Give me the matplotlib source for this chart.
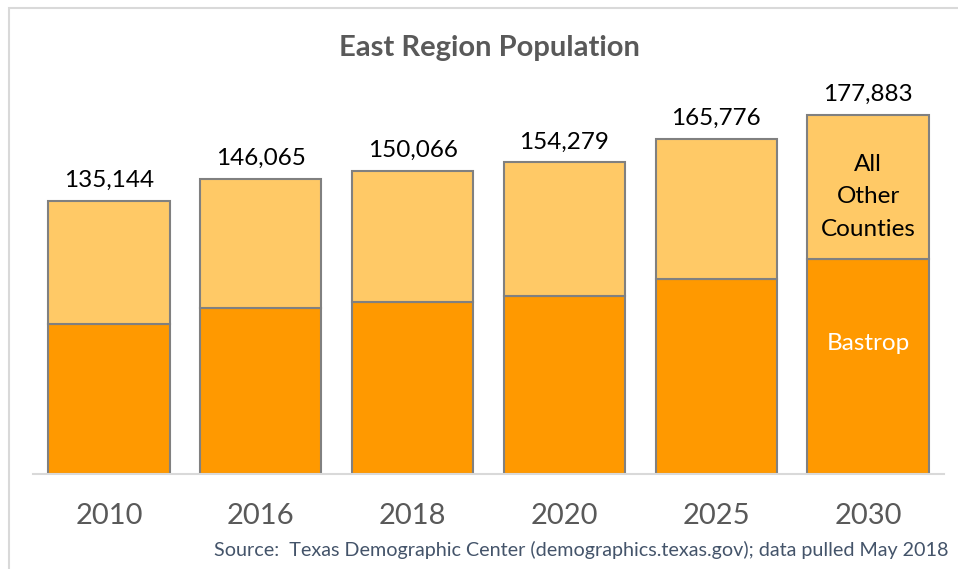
import matplotlib
matplotlib.use("Agg")
import matplotlib.pyplot as plt
from matplotlib.patches import Rectangle

years = ["2010", "2016", "2018", "2020", "2025", "2030"]
totals = [135144, 146065, 150066, 154279, 165776, 177883]
bastrop = [74000, 82200, 84900, 88000, 96500, 106200]
others = [t - b for t, b in zip(totals, bastrop)]

FONT = ["Lato", "DejaVu Sans"]
plt.rcParams["font.family"] = FONT

W, H = 958, 569
fig = plt.figure(figsize=(W / 100, H / 100), dpi=100)
fig.patch.set_facecolor("white")

# outer frame
fig.add_artist(Rectangle((8.5 / W, -0.1), 1.2, (H - 8.5) / H + 0.1,
                         transform=fig.transFigure, fill=False,
                         edgecolor="#d9d9d9", linewidth=1.5))

ymax = 200000
px_per_unit = 1 / 495.6
base_px = 473.5
top_px = base_px - ymax * px_per_unit
ax = fig.add_axes([33 / W, (H - base_px) / H, (944 - 33) / W, (base_px - top_px) / H])

x = range(len(years))
edge = "#808080"
b1 = ax.bar(x, bastrop, width=0.8, color="#FF9900", edgecolor=edge, linewidth=1.5, zorder=2)
b2 = ax.bar(x, others, bottom=bastrop, width=0.8, color="#FFC966", edgecolor=edge, linewidth=1.5, zorder=2)

ax.bar_label(b2, labels=[f"{t:,}" for t in totals], padding=7, fontsize=17.5, color="black")

ax.set_xlim(-0.5, len(years) - 0.5)
ax.set_ylim(0, ymax)
ax.set_xticks(list(x))
ax.set_xticklabels(years, fontsize=21, color="#595959")
ax.tick_params(axis="x", length=0, pad=21)
ax.set_yticks([])
for s in ["top", "right", "left"]:
    ax.spines[s].set_visible(False)
ax.spines["bottom"].set_color("#d9d9d9")
ax.spines["bottom"].set_linewidth(1.5)

last = len(years) - 1
ax.text(last, bastrop[last] + others[last] / 2 - 5000, "All\nOther\nCounties", ha="center", va="center",
        fontsize=17.5, color="black", linespacing=1.65, zorder=3)
ax.text(last, bastrop[last] * 0.605, "Bastrop", ha="center", va="center",
        fontsize=17.5, color="white", zorder=3)

fig.text(489 / W, 1 - 48 / H, "East Region Population", ha="center", va="center",
         fontsize=21, fontweight="bold", color="#595959")
fig.text(948 / W, 1 - 550 / H, "Source:  Texas Demographic Center (demographics.texas.gov); data pulled May 2018",
         ha="right", va="center", fontsize=14.2, color="#44546A")

fig.savefig("out.png", dpi=100)
